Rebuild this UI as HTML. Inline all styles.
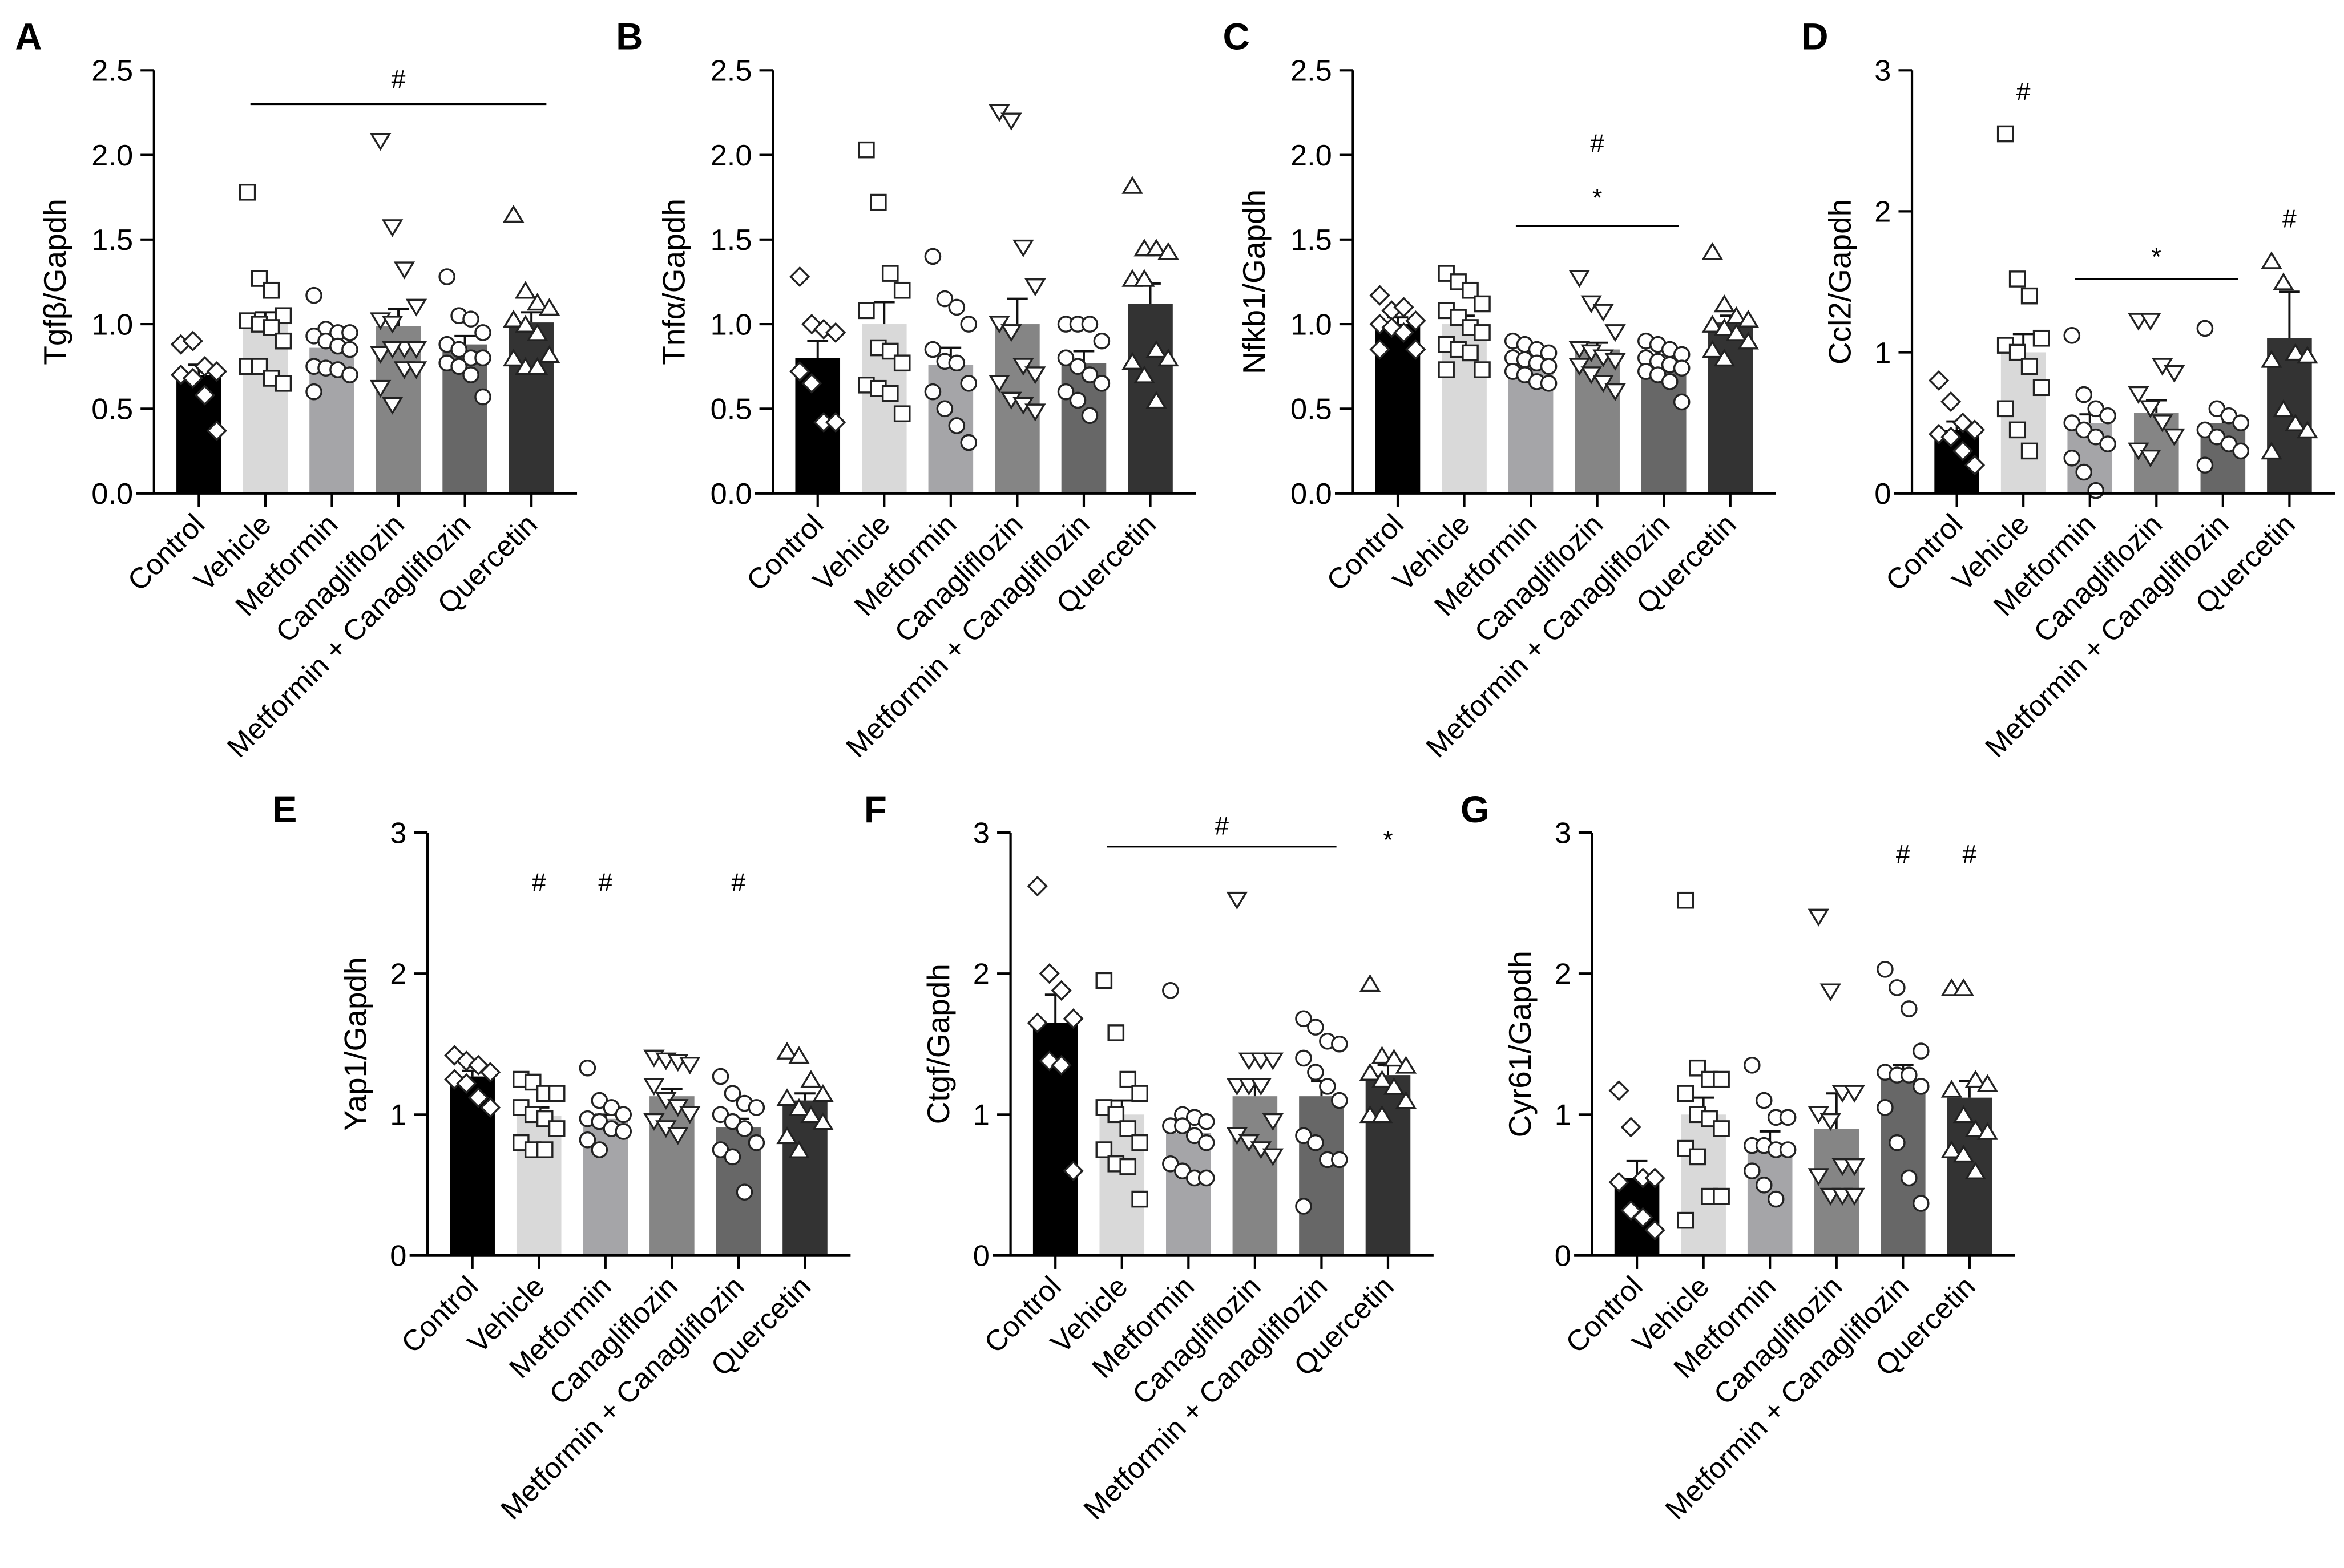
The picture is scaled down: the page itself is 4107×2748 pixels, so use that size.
<!DOCTYPE html>
<html><head><meta charset="utf-8"><style>
html,body{margin:0;padding:0;background:#fff}
svg{display:block}
text{font-family:"Liberation Sans",Arial,sans-serif;fill:#000}
</style></head><body>
<svg id="fig" xmlns="http://www.w3.org/2000/svg" width="4107" height="2748" viewBox="0 0 1568 1049"></svg>
<script>
const categories = ["Control","Vehicle","Metformin","Canagliflozin","Metformin + Canagliflozin","Quercetin"];
const titles = ["Tgfβ/Gapdh","Tnfα/Gapdh","Nfkb1/Gapdh","Ccl2/Gapdh","Yap1/Gapdh","Ctgf/Gapdh","Cyr61/Gapdh"];
const letters = ["A","B","C","D","E","F","G"];
const yMaxes = [2.5,2.5,2.5,3,3,3,3];
const tickStepA = [0.5,0.5,0.5,1,1,1,1];
const meansA=[0.7,1.0,0.86,0.99,0.88,1.01];
const semA=[0.06,0.07,0.04,0.1,0.05,0.06];
const meansB=[0.8,1.0,0.76,1.0,0.77,1.12];
const semB=[0.1,0.13,0.1,0.15,0.07,0.12];
const meansC=[1.0,1.0,0.8,0.85,0.77,1.01];
const semC=[0.04,0.05,0.02,0.04,0.02,0.04];
const meansD=[0.45,1.0,0.5,0.57,0.5,1.1];
const semD=[0.06,0.13,0.06,0.09,0.06,0.33];
const meansE=[1.27,0.99,0.97,1.13,0.91,1.1];
const semE=[0.04,0.06,0.03,0.05,0.06,0.05];
const meansF=[1.65,1.0,0.87,1.13,1.13,1.28];
const semF=[0.2,0.1,0.08,0.1,0.11,0.07];
const meansG=[0.55,1.0,0.78,0.9,1.25,1.12];
const semG=[0.12,0.12,0.1,0.25,0.1,0.12];
const ptsA=[[0.88,0.9,0.75,0.72,0.7,0.68,0.58,0.37],[1.78,1.27,1.2,1.05,1.02,1.0,0.98,0.9,0.75,0.75,0.68,0.65],[1.17,0.97,0.95,0.95,0.93,0.9,0.87,0.85,0.75,0.74,0.73,0.7,0.6],[2.08,1.57,1.32,1.1,1.02,1.0,0.85,0.85,0.82,0.85,0.73,0.73,0.62,0.52],[1.28,1.05,1.03,0.95,0.88,0.85,0.8,0.8,0.77,0.75,0.7,0.57],[1.65,1.2,1.13,1.1,1.03,1.0,0.95,0.82,0.8,0.75,0.75]];
const ptsB=[[1.28,1.0,0.97,0.95,0.72,0.65,0.42,0.42],[2.03,1.72,1.3,1.2,1.08,0.86,0.84,0.77,0.64,0.62,0.59,0.47],[1.4,1.15,1.1,1.0,0.85,0.78,0.77,0.65,0.6,0.5,0.4,0.3],[2.25,2.2,1.45,1.22,1.0,0.95,0.75,0.7,0.65,0.55,0.52,0.48],[1.0,1.0,1.0,0.9,0.8,0.75,0.7,0.65,0.6,0.55,0.46],[1.82,1.45,1.45,1.43,1.27,1.27,0.85,0.8,0.78,0.7,0.55]];
const ptsC=[[1.17,1.08,1.1,1.02,1.0,0.98,0.95,0.85,0.85],[1.3,1.25,1.2,1.12,1.08,1.04,0.98,0.95,0.88,0.85,0.83,0.73,0.73],[0.9,0.88,0.85,0.83,0.8,0.79,0.77,0.75,0.72,0.7,0.66,0.65],[1.27,1.12,1.07,0.95,0.85,0.83,0.8,0.78,0.75,0.7,0.65,0.6],[0.9,0.88,0.85,0.82,0.8,0.78,0.76,0.74,0.72,0.7,0.66,0.54],[1.43,1.12,1.05,1.03,1.0,0.98,0.95,0.9,0.85,0.8]];
const ptsD=[[0.8,0.65,0.5,0.45,0.42,0.4,0.3,0.2],[2.55,1.52,1.4,1.1,1.05,1.0,0.9,0.75,0.6,0.45,0.3],[1.12,0.7,0.6,0.55,0.5,0.45,0.4,0.35,0.25,0.15,0.02],[1.22,1.22,0.9,0.85,0.7,0.6,0.5,0.4,0.3,0.25],[1.17,0.6,0.55,0.5,0.45,0.4,0.35,0.3,0.2],[1.65,1.5,1.0,0.98,0.95,0.6,0.5,0.45,0.3]];
const ptsE=[[1.42,1.38,1.35,1.3,1.25,1.22,1.12,1.05],[1.25,1.23,1.15,1.15,1.05,1.0,0.97,0.9,0.8,0.75,0.75],[1.33,1.1,1.05,1.0,0.97,0.95,0.9,0.88,0.82,0.75],[1.4,1.38,1.37,1.35,1.2,1.1,1.05,1.0,0.95,0.9,0.85],[1.27,1.15,1.08,1.05,1.0,0.95,0.9,0.8,0.75,0.7,0.45],[1.45,1.42,1.25,1.15,1.12,1.05,1.0,0.95,0.85,0.75]];
const ptsF=[[2.62,2.0,1.88,1.68,1.65,1.38,1.35,0.6],[1.95,1.58,1.25,1.15,1.05,1.0,0.9,0.8,0.75,0.65,0.63,0.4],[1.88,1.0,0.98,0.95,0.92,0.92,0.85,0.8,0.65,0.6,0.55,0.55],[2.52,1.38,1.38,1.38,1.2,1.2,1.2,0.95,0.85,0.8,0.75,0.7],[1.68,1.62,1.52,1.5,1.4,1.3,1.2,1.1,0.85,0.8,0.68,0.68,0.35],[1.93,1.42,1.4,1.35,1.3,1.25,1.2,1.1,1.0,1.0]];
const ptsG=[[1.17,0.91,0.55,0.55,0.52,0.32,0.27,0.18],[2.52,1.33,1.25,1.25,1.15,1.0,0.97,0.9,0.76,0.7,0.42,0.42,0.25],[1.35,1.1,0.98,0.98,0.78,0.78,0.75,0.75,0.6,0.5,0.4],[2.4,1.87,1.15,1.15,1.0,0.95,0.63,0.63,0.56,0.42,0.42,0.42],[2.03,1.9,1.75,1.45,1.3,1.28,1.28,1.2,1.05,0.8,0.55,0.37],[1.9,1.9,1.25,1.22,1.18,1.0,0.9,0.88,0.75,0.72,0.6]];
const allMeans=[meansA,meansB,meansC,meansD,meansE,meansF,meansG];
const allSem=[semA,semB,semC,semD,semE,semF,semG];
const allPts=[ptsA,ptsB,ptsC,ptsD,ptsE,ptsF,ptsG];
const sigA=[["line",1,5,2.3],["#",3,3,2.45]];
const sigB=[];
const sigC=[["line",2,4,1.58],["*",3,3,1.75],["#",3,3,2.07]];
const sigD=[["#",1,1,2.85],["line",2,4,1.52],["*",3,3,1.68],["#",5,5,1.95]];
const sigE=[["#",1,1,2.65],["#",2,2,2.65],["#",4,4,2.65]];
const sigF=[["line",1,4,2.9],["#",2.5,2.5,3.05],["*",5,5,2.95]];
const sigG=[["#",4,4,2.85],["#",5,5,2.85]];
const allSig=[sigA,sigB,sigC,sigD,sigE,sigF,sigG];

const layout=[[103,330],[517,330],[905,330],[1279,330],[286,840],[676,840],[1065,840]];
const letterPos=[[10,33],[412,33],[818,33],[1205,33],[182,550],[578,550],[977,550]];
const H=283, W=283, BW=30, SP=44.5;
const colors=["#000","#d9d9d9","#a5a5a8","#858585","#676767","#333"];
const NS="http://www.w3.org/2000/svg";
const svg=document.getElementById('fig');
function el(t,a,p){const e=document.createElementNS(NS,t);for(const k in a)e.setAttribute(k,a[k]);(p||svg).appendChild(e);return e;}

function marker(g,type,x,y){
  const s="#222",fill="#fff";let e;
  if(type===0) e=el('polygon',{points:`${x},${y-6} ${x+6},${y} ${x},${y+6} ${x-6},${y}`,fill,stroke:s,'stroke-width':1.3},g);
  else if(type===1) e=el('rect',{x:x-5,y:y-5,width:10,height:10,fill,stroke:s,'stroke-width':1.3},g);
  else if(type===2||type===4) e=el('circle',{cx:x,cy:y,r:5,fill,stroke:s,'stroke-width':1.3},g);
  else if(type===3) e=el('polygon',{points:`${x-6},${y-5} ${x+6},${y-5} ${x},${y+5}`,fill,stroke:s,'stroke-width':1.3},g);
  else e=el('polygon',{points:`${x-6},${y+5} ${x+6},${y+5} ${x},${y-5}`,fill,stroke:s,'stroke-width':1.3},g);
  
  
}

for(let p=0;p<7;p++){
  const [x0,y0]=layout[p];const ymax=yMaxes[p],step=tickStepA[p];
  const g=el('g',{});
  
  
  const ys=v=>y0-v/ymax*H;
  const xs=i=>x0+30+i*SP;
  const lt=el('text',{x:letterPos[p][0],y:letterPos[p][1],'font-size':25,'font-weight':'bold'},g);lt.textContent=letters[p];
  
  
  for(let i=0;i<6;i++){
    const m=allMeans[p][i];
    const b=el('rect',{x:xs(i)-BW/2,y:ys(m),width:BW,height:y0-ys(m),fill:colors[i]},g);
    
    
    const se=allSem[p][i];
    el('line',{x1:xs(i),x2:xs(i),y1:ys(m),y2:ys(m+se),stroke:'#111','stroke-width':1.5},g);
    el('line',{x1:xs(i)-7,x2:xs(i)+7,y1:ys(m+se),y2:ys(m+se),stroke:'#111','stroke-width':1.5},g);
  }
  for(let i=0;i<6;i++){
    const pts=allPts[p][i];
    pts.forEach((v,j)=>{
      const off=((j%4)-1.5)*8;
      marker(g,i,xs(i)+off,ys(v));
    });
  }
  el('line',{x1:x0,x2:x0,y1:y0,y2:y0-H,stroke:'#000','stroke-width':1.6},g);
  el('line',{x1:x0-12,x2:x0+W,y1:y0,y2:y0,stroke:'#000','stroke-width':1.8},g);
  for(let v=0;v<=ymax+1e-9;v+=step){
    el('line',{x1:x0-9,x2:x0,y1:ys(v),y2:ys(v),stroke:'#000','stroke-width':1.6},g);
    const t=el('text',{x:x0-14,y:ys(v)+7,'font-size':20,'text-anchor':'end'},g);
    t.textContent=step<1?v.toFixed(1):String(Math.round(v));
    
    
  }
  const yt=el('text',{x:0,y:0,'font-size':21,'text-anchor':'middle',transform:`translate(${x0-(step<1?59:41)},${y0-H/2}) rotate(-90)`},g);
  yt.textContent=titles[p];
  
  
  for(let i=0;i<6;i++){
    el('line',{x1:xs(i),x2:xs(i),y1:y0,y2:y0+9,stroke:'#000','stroke-width':1.6},g);
    const t=el('text',{x:0,y:0,'font-size':19.5,'text-anchor':'end',transform:`translate(${xs(i)+5},${y0+22}) rotate(-45)`},g);
    t.textContent=categories[i];
    
    
  }
  allSig[p].forEach(s=>{
    if(s[0]==="line"){
      el('line',{x1:xs(s[1])-10,x2:xs(s[2])+10,y1:ys(s[3]),y2:ys(s[3]),stroke:'#000','stroke-width':1.2},g);
    } else {
      const t=el('text',{x:xs(s[1]),y:ys(s[3])+6,'font-size':17,'text-anchor':'middle'},g);
      t.textContent=s[0];
      
      
    }
  });
}
</script>
</body></html>
